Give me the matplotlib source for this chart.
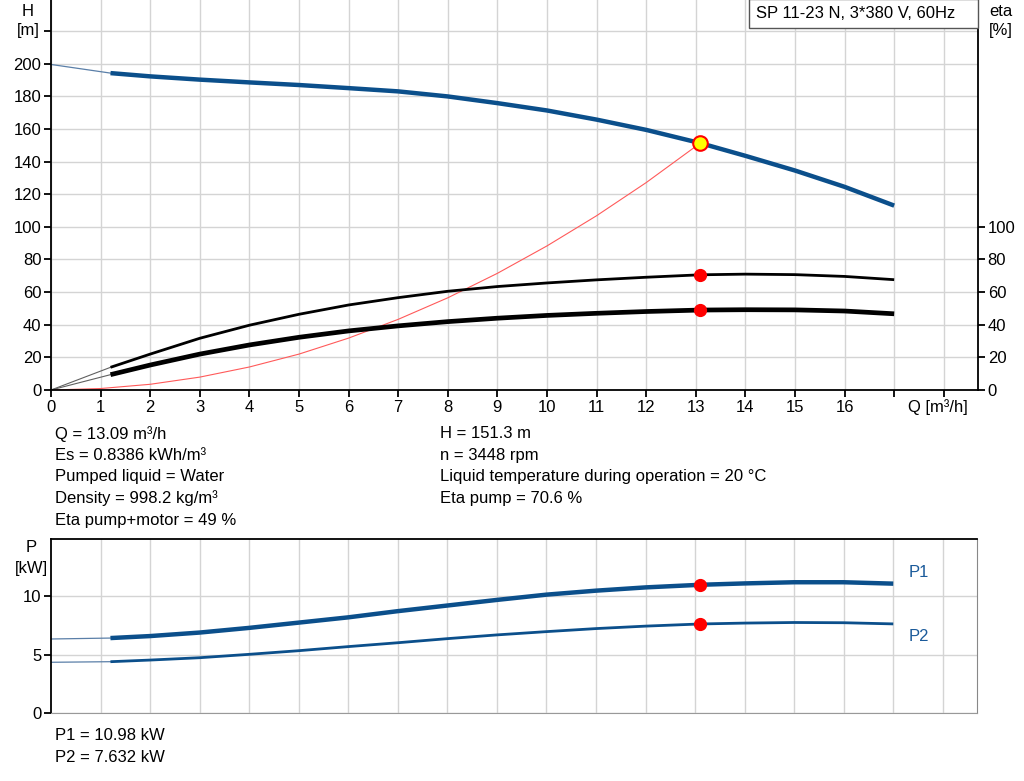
import numpy as np
import matplotlib.pyplot as plt
from matplotlib.patches import Rectangle

plt.rcParams['font.family'] = ['Liberation Sans', 'DejaVu Sans']

# flow points (m3/h)
q = [1.2, 2, 3, 4, 5, 6, 7, 8, 9, 10, 11, 12, 13.09, 14, 15, 16, 17]
head = [194.2, 192.2, 190.2, 188.5, 186.9, 185.0, 183.0, 179.9, 175.8, 171.3,
        165.7, 159.4, 151.3, 143.5, 134.5, 124.5, 113.0]
eta_pump = [13.9, 22.0, 31.7, 39.7, 46.4, 52.1, 56.6, 60.5, 63.4, 65.6,
            67.5, 69.1, 70.6, 71.0, 70.7, 69.6, 67.6]
eta_total = [9.4, 15.3, 22.0, 27.6, 32.3, 36.2, 39.3, 41.9, 44.0, 45.7,
             47.0, 48.1, 49.0, 49.2, 49.1, 48.4, 46.7]
p1 = [6.43, 6.6, 6.9, 7.3, 7.75, 8.2, 8.73, 9.21, 9.69, 10.14,
      10.48, 10.76, 10.98, 11.1, 11.2, 11.2, 11.08]
p2 = [4.41, 4.55, 4.75, 5.04, 5.35, 5.7, 6.03, 6.38, 6.7, 6.98,
      7.24, 7.45, 7.632, 7.71, 7.76, 7.74, 7.64]

# extrapolated part from Q=0 to the first point
q_ext = [0, 1.2]
head_ext = [199.5, 194.2]
eta_pump_ext = [0, 13.9]
eta_total_ext = [0, 9.4]
p1_ext = [6.35, 6.43]
p2_ext = [4.36, 4.41]

# system curve up to duty point
q_sys = [0, 1, 2, 3, 4, 5, 6, 7, 8, 9, 10, 11, 12, 13.09]
h_sys = [0, 0.9, 3.5, 7.9, 14.1, 22.0, 31.8, 43.3, 56.5, 71.5, 88.3, 106.8, 127.1, 151.3]

q_duty = 13.09
h_duty = 151.3
eta_pump_duty = 70.6
eta_total_duty = 49.0
p1_duty = 10.98
p2_duty = 7.632

info_left = ['Q = 13.09 m³/h', 'Es = 0.8386 kWh/m³', 'Pumped liquid = Water',
             'Density = 998.2 kg/m³', 'Eta pump+motor = 49 %']
info_right = ['H = 151.3 m', 'n = 3448 rpm',
              'Liquid temperature during operation = 20 °C', 'Eta pump = 70.6 %']
info_power = ['P1 = 10.98 kW', 'P2 = 7.632 kW']
title = 'SP 11-23 N, 3*380 V, 60Hz'

blue = '#0b4f8b'
grid_c = '#d4d4d4'
fs = 12

fig = plt.figure(figsize=(10.24, 7.81), dpi=100)

# ---- top chart: head / efficiency
ax = fig.add_axes([51/1024, 1-390/781, 927/1024, 390/781])
ax.set_xlim(0, 18.69)
ax.set_ylim(0, 239)
ax.set_xticks(range(0, 19))
ax.set_xticklabels([str(i) for i in range(0, 17)] + ['', ''], fontsize=fs)
ax.set_yticks(range(0, 221, 20))
ax.set_yticklabels([str(i) for i in range(0, 201, 20)] + [''], fontsize=fs)
ax.grid(True, color=grid_c, lw=1)
ax.set_axisbelow(True)
ax.spines['top'].set_visible(False)
for s in ['left', 'bottom', 'right']:
    ax.spines[s].set_linewidth(1.3)
ax.tick_params(direction='out', length=5, width=1.3, pad=2)

ax.plot(q_ext, head_ext, color='#5a7fa8', lw=0.9)
ax.plot(q, head, color=blue, lw=3.2, solid_capstyle='butt')
ax.plot(q_sys, h_sys, color='#ff5a5a', lw=0.8)
ax.plot(q_ext, eta_pump_ext, color='#606060', lw=0.8)
ax.plot(q, eta_pump, color='black', lw=2.0, solid_capstyle='butt')
ax.plot(q_ext, eta_total_ext, color='#606060', lw=0.8)
ax.plot(q, eta_total, color='black', lw=3.4, solid_capstyle='butt')
ax.plot([q_duty], [h_duty], 'o', ms=10.5, mfc='#ffff00', mec='#ff0000', mew=1.5, zorder=5)
ax.plot([q_duty, q_duty], [eta_pump_duty, eta_total_duty], 'o', ms=8.5,
        color='#ff0000', ls='none', zorder=5)

ax2 = ax.twinx()
ax2.set_ylim(0, 239)
ax2.set_yticks(range(0, 101, 20))
ax2.set_yticklabels([str(i) for i in range(0, 101, 20)], fontsize=fs)
ax2.tick_params(direction='out', length=5, width=1.3, pad=2)
for s in ax2.spines.values():
    s.set_visible(False)

fig.text(28/1024, 1-11/781, 'H', fontsize=fs, ha='center', va='center')
fig.text(28/1024, 1-30/781, '[m]', fontsize=fs, ha='center', va='center')
fig.text(1001/1024, 1-11/781, 'eta', fontsize=fs, ha='center', va='center')
fig.text(1001/1024, 1-30/781, '[%]', fontsize=fs, ha='center', va='center')
fig.text(938/1024, 1-407/781, 'Q [m³/h]', fontsize=fs, ha='center', va='center')

fig.patches.append(Rectangle((749/1024, 1-28/781), 229/1024, 29/781,
                             transform=fig.transFigure, fc='white', ec='#555555', lw=1, zorder=10))
fig.text(756/1024, 1-14/781, title, fontsize=fs, ha='left', va='center', zorder=11)

for i, t in enumerate(info_left):
    fig.text(55/1024, 1-(434 + 21.5*i)/781, t, fontsize=fs, va='center')
for i, t in enumerate(info_right):
    fig.text(440/1024, 1-(434 + 21.5*i)/781, t, fontsize=fs, va='center')

# ---- bottom chart: power
bx = fig.add_axes([51/1024, 1-713.3/781, 926/1024, 174/781])
bx.set_xlim(0, 18.69)
bx.set_ylim(0, 14.87)
bx.set_xticks(range(1, 19))
bx.set_xticklabels([])
bx.set_yticks([0, 5, 10])
bx.set_yticklabels(['0', '5', '10'], fontsize=fs)
bx.grid(True, color=grid_c, lw=1)
bx.set_axisbelow(True)
bx.tick_params(axis='x', length=0)
bx.tick_params(axis='y', direction='out', length=5, width=1.3, pad=2)
bx.spines['left'].set_linewidth(1.3)
bx.spines['top'].set_linewidth(1.3)
bx.spines['right'].set_color('#888888')
bx.spines['bottom'].set_color('#999999')

bx.plot(q_ext, p1_ext, color='#5a7fa8', lw=0.9)
bx.plot(q_ext, p2_ext, color='#5a7fa8', lw=0.9)
bx.plot(q, p1, color=blue, lw=3.2, solid_capstyle='butt')
bx.plot(q, p2, color=blue, lw=2.0, solid_capstyle='butt')
bx.plot([q_duty, q_duty], [p1_duty, p2_duty], 'o', ms=8.5, color='#ff0000', ls='none', zorder=5)
bx.text(17.32, 12.0, 'P1', color='#1a5a9a', fontsize=fs, va='center')
bx.text(17.32, 6.6, 'P2', color='#1a5a9a', fontsize=fs, va='center')

fig.text(31/1024, 1-548/781, 'P', fontsize=fs, ha='center', va='center')
fig.text(31/1024, 1-569/781, '[kW]', fontsize=fs, ha='center', va='center')
for i, t in enumerate(info_power):
    fig.text(55/1024, 1-(736 + 21.5*i)/781, t, fontsize=fs, va='center')

fig.savefig('out.png', dpi=100)
